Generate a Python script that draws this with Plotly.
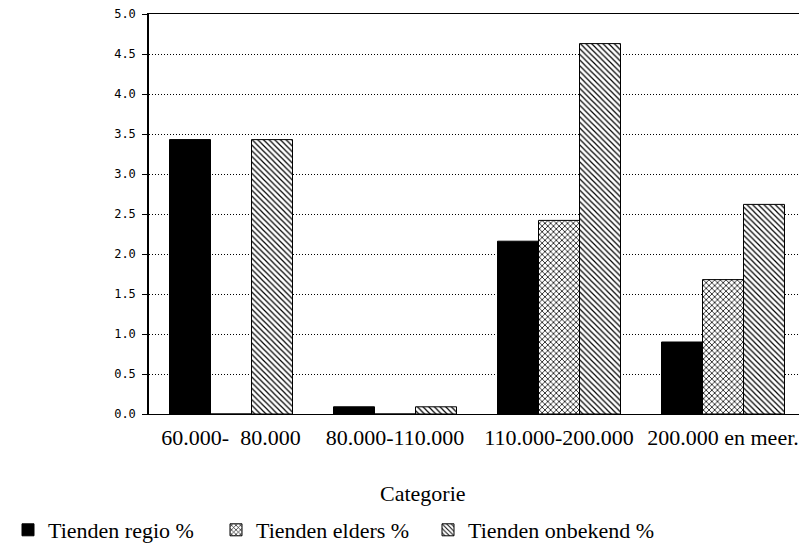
import plotly.graph_objects as go

categories = ["60.000-\u00a0\u00a080.000", "80.000-110.000", "110.000-200.000", "200.000 en meer."]
regio = [3.43, 0.09, 2.16, 0.90]
elders = [0.0, 0.0, 2.42, 1.68]
onbekend = [3.43, 0.09, 4.63, 2.62]
series_names = ["Tienden regio %", "Tienden elders %", "Tienden onbekend %"]
y_ticks = [0, 0.5, 1, 1.5, 2, 2.5, 3, 3.5, 4, 4.5, 5]

serif = "Liberation Serif, Times New Roman, serif"
mono = "DejaVu Sans Mono, monospace"

# page body has an 8px margin: figure is placed at (8, 8)
W, H = 799, 536

fig = go.Figure()
fig.add_bar(x=categories, y=regio, name=series_names[0], legend="legend",
            marker=dict(color="black", line=dict(color="black", width=1)))
fig.add_bar(x=categories, y=elders, name=series_names[1], legend="legend2",
            marker=dict(color="white", line=dict(color="black", width=1),
                        pattern=dict(shape="x", fgcolor="black", bgcolor="white",
                                     size=4, solidity=0.35, fillmode="replace")))
fig.add_bar(x=categories, y=onbekend, name=series_names[2], legend="legend3",
            marker=dict(color="white", line=dict(color="black", width=1),
                        pattern=dict(shape="\\", fgcolor="black", bgcolor="white",
                                     size=4, solidity=0.3, fillmode="replace")))

legend_y = 1 - (530 - 8) / H


def legend_at(px):
    return dict(orientation="h", xref="container", yref="container",
                x=(px - 8) / W, y=legend_y, xanchor="left", yanchor="middle",
                font=dict(family=serif, size=22, color="black"),
                itemwidth=30, bgcolor="rgba(0,0,0,0)")


fig.update_layout(
    width=W, height=H,
    margin=dict(l=141, r=2, t=6, b=130, autoexpand=False),
    paper_bgcolor="white", plot_bgcolor="white",
    barmode="group", bargap=0.25, bargroupgap=0,
    showlegend=True,
    legend=legend_at(8),
    legend2=legend_at(216),
    legend3=legend_at(428),
    font=dict(family=serif, color="black"),
)
fig.update_xaxes(showline=True, linecolor="black", linewidth=1, mirror=True,
                 ticks="", ticklabelstandoff=4,
                 tickfont=dict(family=serif, size=22, color="black"),
                 showgrid=False)
fig.update_yaxes(range=[0, 5], tickvals=y_ticks, tickformat=".1f",
                 showline=True, linecolor="black", linewidth=1.5, mirror=True,
                 ticks="outside", ticklen=5, tickcolor="black",
                 ticklabelstandoff=4, ticklabeloverflow="allow",
                 tickfont=dict(family=mono, size=12, color="black"),
                 showgrid=True, gridcolor="black", gridwidth=1, griddash="1px,2px",
                 zeroline=False)
fig.add_annotation(text="Categorie", xref="paper", yref="paper",
                   x=0.418, y=(414 - 493) / 400, yanchor="middle", xanchor="center",
                   showarrow=False,
                   font=dict(family=serif, size=22, color="black"))

fig.write_html("out.html")
